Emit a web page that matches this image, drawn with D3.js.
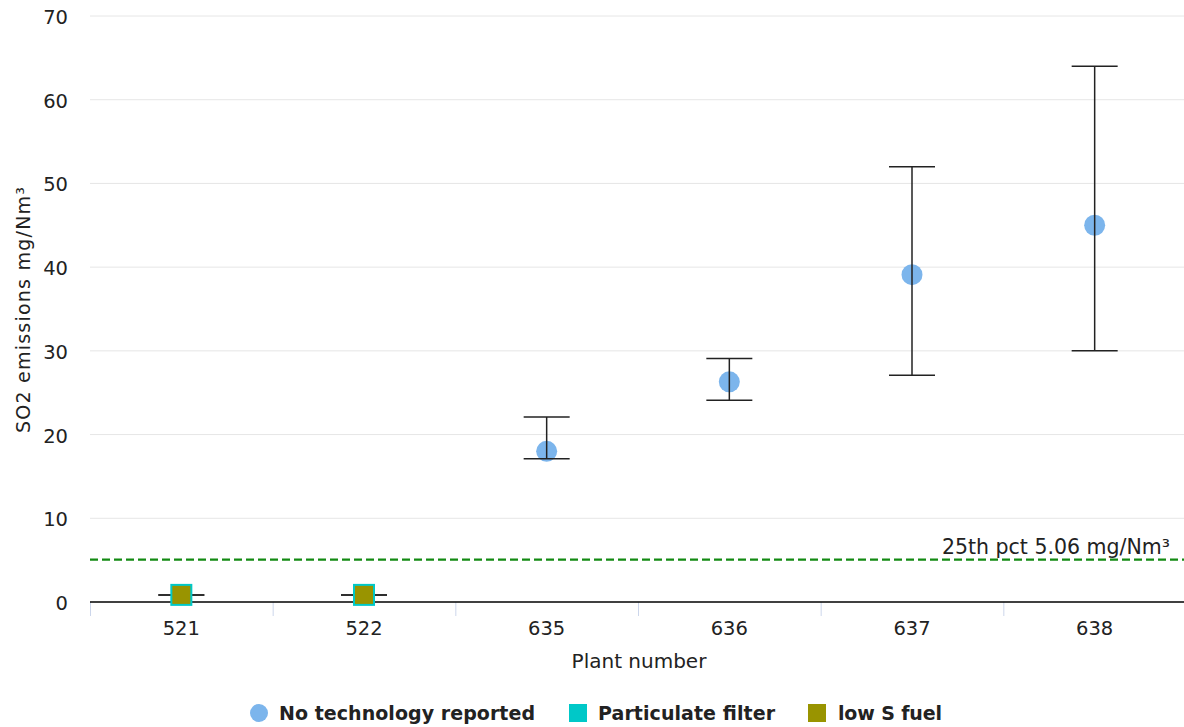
<!DOCTYPE html>
<html>
<head>
<meta charset="utf-8">
<script src="https://cdn.jsdelivr.net/npm/d3@7"></script>
<style>
  body { margin: 0; background: #fff; }
  text { font-family: "DejaVu Sans", sans-serif; }
</style>
</head>
<body>
<svg id="chart" width="1184" height="727"></svg>
<script>
// chart data
const plants = ["521", "522", "635", "636", "637", "638"];
const noTech = [null, null, 18.0, 26.3, 39.1, 45.0];
const partFilter = [0.85, 0.85, null, null, null, null];
const lowSFuel = [0.85, 0.85, null, null, null, null];
const errLow = [0.85, 0.85, 17.1, 24.1, 27.1, 30.0];
const errHigh = [0.85, 0.85, 22.1, 29.1, 52.0, 64.0];
const yTicks = [0, 10, 20, 30, 40, 50, 60, 70];
const pct25 = 5.06;

const svg = d3.select("#chart");
const plotLeft = 90, plotRight = 1186, plotTop = 16, plotBottom = 602;
const fs = 19.5;

const x = d3.scaleBand().domain(plants).range([plotLeft, plotRight]);
const y = d3.scaleLinear().domain([0, 70]).range([plotBottom, plotTop]);

// gridlines
svg.append("g").selectAll("line")
    .data(yTicks.filter(d => d > 0))
    .join("line")
    .attr("x1", plotLeft).attr("x2", 1184)
    .attr("y1", d => y(d)).attr("y2", d => y(d))
    .attr("stroke", "#e6e6e6").attr("stroke-width", 1);

// y tick labels
svg.append("g").selectAll("text")
    .data(yTicks)
    .join("text")
    .attr("x", 68).attr("y", d => y(d) + 8)
    .attr("text-anchor", "end")
    .attr("font-size", fs).attr("fill", "#222")
    .text(d => d);

// y axis title
svg.append("text")
    .attr("transform", `translate(30,310) rotate(-90)`)
    .attr("text-anchor", "middle")
    .attr("font-size", 19).attr("fill", "#222")
    .attr("textLength", 246)
    .text("SO2 emissions mg/Nm³");

// x ticks at band boundaries
const bounds = plants.map(p => x(p));
svg.append("g").selectAll("line")
    .data(bounds)
    .join("line")
    .attr("x1", d => d + 0.5).attr("x2", d => d + 0.5)
    .attr("y1", plotBottom).attr("y2", plotBottom + 14)
    .attr("stroke", "#ccd6eb").attr("stroke-width", 1);

// zero line
svg.append("line")
    .attr("x1", plotLeft).attr("x2", 1184)
    .attr("y1", y(0)).attr("y2", y(0))
    .attr("stroke", "#000").attr("stroke-width", 1.5);

// x labels
svg.append("g").selectAll("text")
    .data(plants)
    .join("text")
    .attr("x", d => x(d) + x.bandwidth() / 2)
    .attr("y", 635)
    .attr("text-anchor", "middle")
    .attr("font-size", fs).attr("fill", "#222")
    .text(d => d);

svg.append("text")
    .attr("x", 639).attr("y", 668)
    .attr("text-anchor", "middle")
    .attr("font-size", 20).attr("fill", "#222")
    .text("Plant number");

// 25th percentile line
svg.append("line")
    .attr("x1", plotLeft).attr("x2", 1184)
    .attr("y1", y(pct25)).attr("y2", y(pct25))
    .attr("stroke", "#138a13").attr("stroke-width", 2.2)
    .attr("stroke-dasharray", "8,4");
svg.append("text")
    .attr("x", 1170).attr("y", 554)
    .attr("text-anchor", "end")
    .attr("font-size", 20.5).attr("fill", "#222")
    .text(`25th pct ${pct25} mg/Nm³`);

const cx = p => x(p) + x.bandwidth() / 2;

// blue points (drawn under error bars)
svg.append("g").selectAll("circle")
    .data(plants.map((p, i) => ({ p, v: noTech[i] })).filter(d => d.v !== null))
    .join("circle")
    .attr("cx", d => cx(d.p)).attr("cy", d => y(d.v))
    .attr("r", 10.5).attr("fill", "#7cb5ec");

// error bars
const err = svg.append("g").attr("stroke", "#222").attr("stroke-width", 1.5);
plants.forEach((p, i) => {
    const c = cx(p);
    err.append("line").attr("x1", c).attr("x2", c)
        .attr("y1", y(errLow[i])).attr("y2", y(errHigh[i]));
    [errLow[i], errHigh[i]].forEach(v => {
        err.append("line").attr("x1", c - 23).attr("x2", c + 23)
            .attr("y1", y(v)).attr("y2", y(v));
    });
});

// particulate filter squares, then low S fuel squares on top
svg.append("g").selectAll("rect")
    .data(plants.map((p, i) => ({ p, v: partFilter[i] })).filter(d => d.v !== null))
    .join("rect")
    .attr("x", d => cx(d.p) - 11).attr("y", d => y(d.v) - 11)
    .attr("width", 22).attr("height", 22)
    .attr("fill", "#00c8c8");
svg.append("g").selectAll("rect")
    .data(plants.map((p, i) => ({ p, v: lowSFuel[i] })).filter(d => d.v !== null))
    .join("rect")
    .attr("x", d => cx(d.p) - 9).attr("y", d => y(d.v) - 9)
    .attr("width", 18).attr("height", 18)
    .attr("fill", "#999400");

// legend
const legend = svg.append("g").attr("font-weight", "bold").attr("font-size", 19).attr("fill", "#222");
legend.append("circle").attr("cx", 259).attr("cy", 713).attr("r", 9).attr("fill", "#7cb5ec");
legend.append("text").attr("x", 279).attr("y", 720).attr("textLength", 256).text("No technology reported");
legend.append("rect").attr("x", 569).attr("y", 704).attr("width", 18).attr("height", 18).attr("fill", "#00c8c8");
legend.append("text").attr("x", 598).attr("y", 720).attr("textLength", 177).text("Particulate filter");
legend.append("rect").attr("x", 808).attr("y", 704).attr("width", 18).attr("height", 18).attr("fill", "#999400");
legend.append("text").attr("x", 838).attr("y", 720).attr("textLength", 104).text("low S fuel");
</script>
</body>
</html>
